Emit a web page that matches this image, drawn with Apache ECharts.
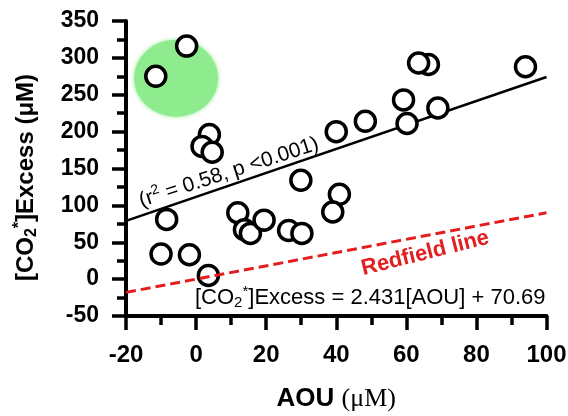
<!DOCTYPE html>
<html><head><meta charset="utf-8">
<script src="https://cdn.jsdelivr.net/npm/echarts@6/dist/echarts.min.js"></script>
<style>html,body{margin:0;padding:0;background:#fff}#c{width:568px;height:416px}</style>
</head><body><div id="c"></div>
<script>
// Data
const aou = [-11.5, -2.7, 3.8, 1.7, 4.6, -8.4, -10, -1.9, 3.5, 11.9, 13.8, 15.5, 19.4, 26.4, 30.2, 29.9, 40.9, 39, 40, 48.3, 59.2, 60.2, 69, 66.3, 63.5, 94];
const co2Excess = [275, 316, 196, 180, 172, 81, 34, 33, 5, 90, 67, 62, 80, 66, 62, 134, 115, 91, 200, 214, 243, 211, 232, 291, 293, 288];
const fitAou = [-20, 100];
const fitCo2 = [79, 274];
const redfieldAou = [-20, 100];
const redfieldCo2 = [-18, 90];
const highlightAt = [-5.7, 272.5];
const fitLabelAt = [9.4, 144.6];
const redfieldLabelAt = [65.4, 35];
const eqLabelAt = [49.7, -25];
const xMin = -20, xMax = 100, xStep = 20;
const yMin = -50, yMax = 350, yStep = 50;

const FONT = "'Liberation Sans', Arial, sans-serif";
const chart = echarts.init(document.getElementById('c'), null, {renderer: 'canvas'});

const points = aou.map((x, i) => [x, co2Excess[i]]);
const fitLine = fitAou.map((x, i) => [x, fitCo2[i]]);
const redLine = redfieldAou.map((x, i) => [x, redfieldCo2[i]]);

const axisCommon = {
  axisLine: {show: true, onZero: false, lineStyle: {color: '#000', width: 4}},
  axisTick: {show: true, length: 14, lineStyle: {color: '#000', width: 3.5}},
  minorTick: {show: true, splitNumber: 2, length: 9, lineStyle: {color: '#000', width: 3.5}},
  splitLine: {show: false},
  minorSplitLine: {show: false}
};

chart.setOption({
  animation: false,
  backgroundColor: '#fff',
  grid: {left: 126, right: 21.5, top: 21, bottom: 100, containLabel: false, outerBoundsMode: 'none'},
  xAxis: Object.assign({
    type: 'value', min: xMin, max: xMax, interval: xStep,
    axisLabel: {color: '#000', fontFamily: FONT, fontWeight: 'bold', fontSize: 24, margin: 27},
    name: '{b|AOU }{s|(μM)}', nameLocation: 'middle', nameGap: 70,
    nameTextStyle: {rich: {
      b: {fontFamily: FONT, fontWeight: 'bold', fontSize: 26, color: '#000'},
      s: {fontFamily: "'Liberation Serif', 'Times New Roman', serif", fontSize: 26, color: '#000'}
    }}
  }, axisCommon),
  yAxis: Object.assign({
    type: 'value', min: yMin, max: yMax, interval: yStep,
    axisLabel: {color: '#000', fontFamily: FONT, fontWeight: 'bold', fontSize: 23, margin: 27},
    name: '{b|[CO}{sub|2}{sup|*}{b|]Excess (μM)}', nameLocation: 'middle', nameGap: 86,
    nameTextStyle: {padding: [0, 18, 0, 0], rich: {
      b: {fontFamily: FONT, fontWeight: 'bold', fontSize: 24, color: '#000', lineHeight: 28},
      sub: {fontFamily: FONT, fontWeight: 'bold', fontSize: 16, color: '#000', lineHeight: 8, verticalAlign: 'bottom'},
      sup: {fontFamily: FONT, fontWeight: 'bold', fontSize: 16, color: '#000', lineHeight: 14, verticalAlign: 'top'}
    }}
  }, axisCommon),
  series: [
    {
      type: 'scatter', z: 1, silent: true,
      data: [highlightAt], symbol: 'circle', symbolSize: [84, 77],
      itemStyle: {color: '#8eeb8e', opacity: 1, shadowColor: '#8eeb8e', shadowBlur: 4}
    },
    {
      type: 'line', z: 2, data: fitLine, symbol: 'none',
      lineStyle: {color: '#000', width: 2.5}
    },
    {
      type: 'scatter', z: 3, data: points, symbol: 'circle', symbolSize: 20,
      itemStyle: {color: '#fff', borderColor: '#000', borderWidth: 3.5, opacity: 1}
    },
    {
      type: 'line', z: 4, data: redLine, symbol: 'none',
      lineStyle: {color: '#e41e1e', width: 3, type: [10, 5]}
    },
    {
      type: 'scatter', z: 5, symbolSize: 0, silent: true,
      itemStyle: {opacity: 1},
      data: [
        {value: fitLabelAt, label: {
          show: true, position: 'inside', rotate: 18,
          formatter: '{a|(r}{sup|2}{a| = 0.58, p <0.001)}',
          rich: {
            a: {fontFamily: FONT, fontSize: 21, color: '#000', lineHeight: 26},
            sup: {fontFamily: FONT, fontSize: 14, color: '#000', lineHeight: 14, verticalAlign: 'top'}
          }
        }},
        {value: redfieldLabelAt, label: {
          show: true, position: 'inside', rotate: 14,
          formatter: 'Redfield line',
          fontFamily: FONT, fontWeight: 'bold', fontSize: 22, color: '#e41e1e'
        }},
        {value: eqLabelAt, label: {
          show: true, position: 'inside',
          formatter: '{a|[CO}{sub|2}{sup|*}{a|]Excess = 2.431[AOU] + 70.69}',
          rich: {
            a: {fontFamily: FONT, fontSize: 22, color: '#000', lineHeight: 26},
            sub: {fontFamily: FONT, fontSize: 15, color: '#000', lineHeight: 8, verticalAlign: 'bottom'},
            sup: {fontFamily: FONT, fontSize: 15, color: '#000', lineHeight: 14, verticalAlign: 'top'}
          }
        }}
      ]
    }
  ]
});
</script>
</body></html>
